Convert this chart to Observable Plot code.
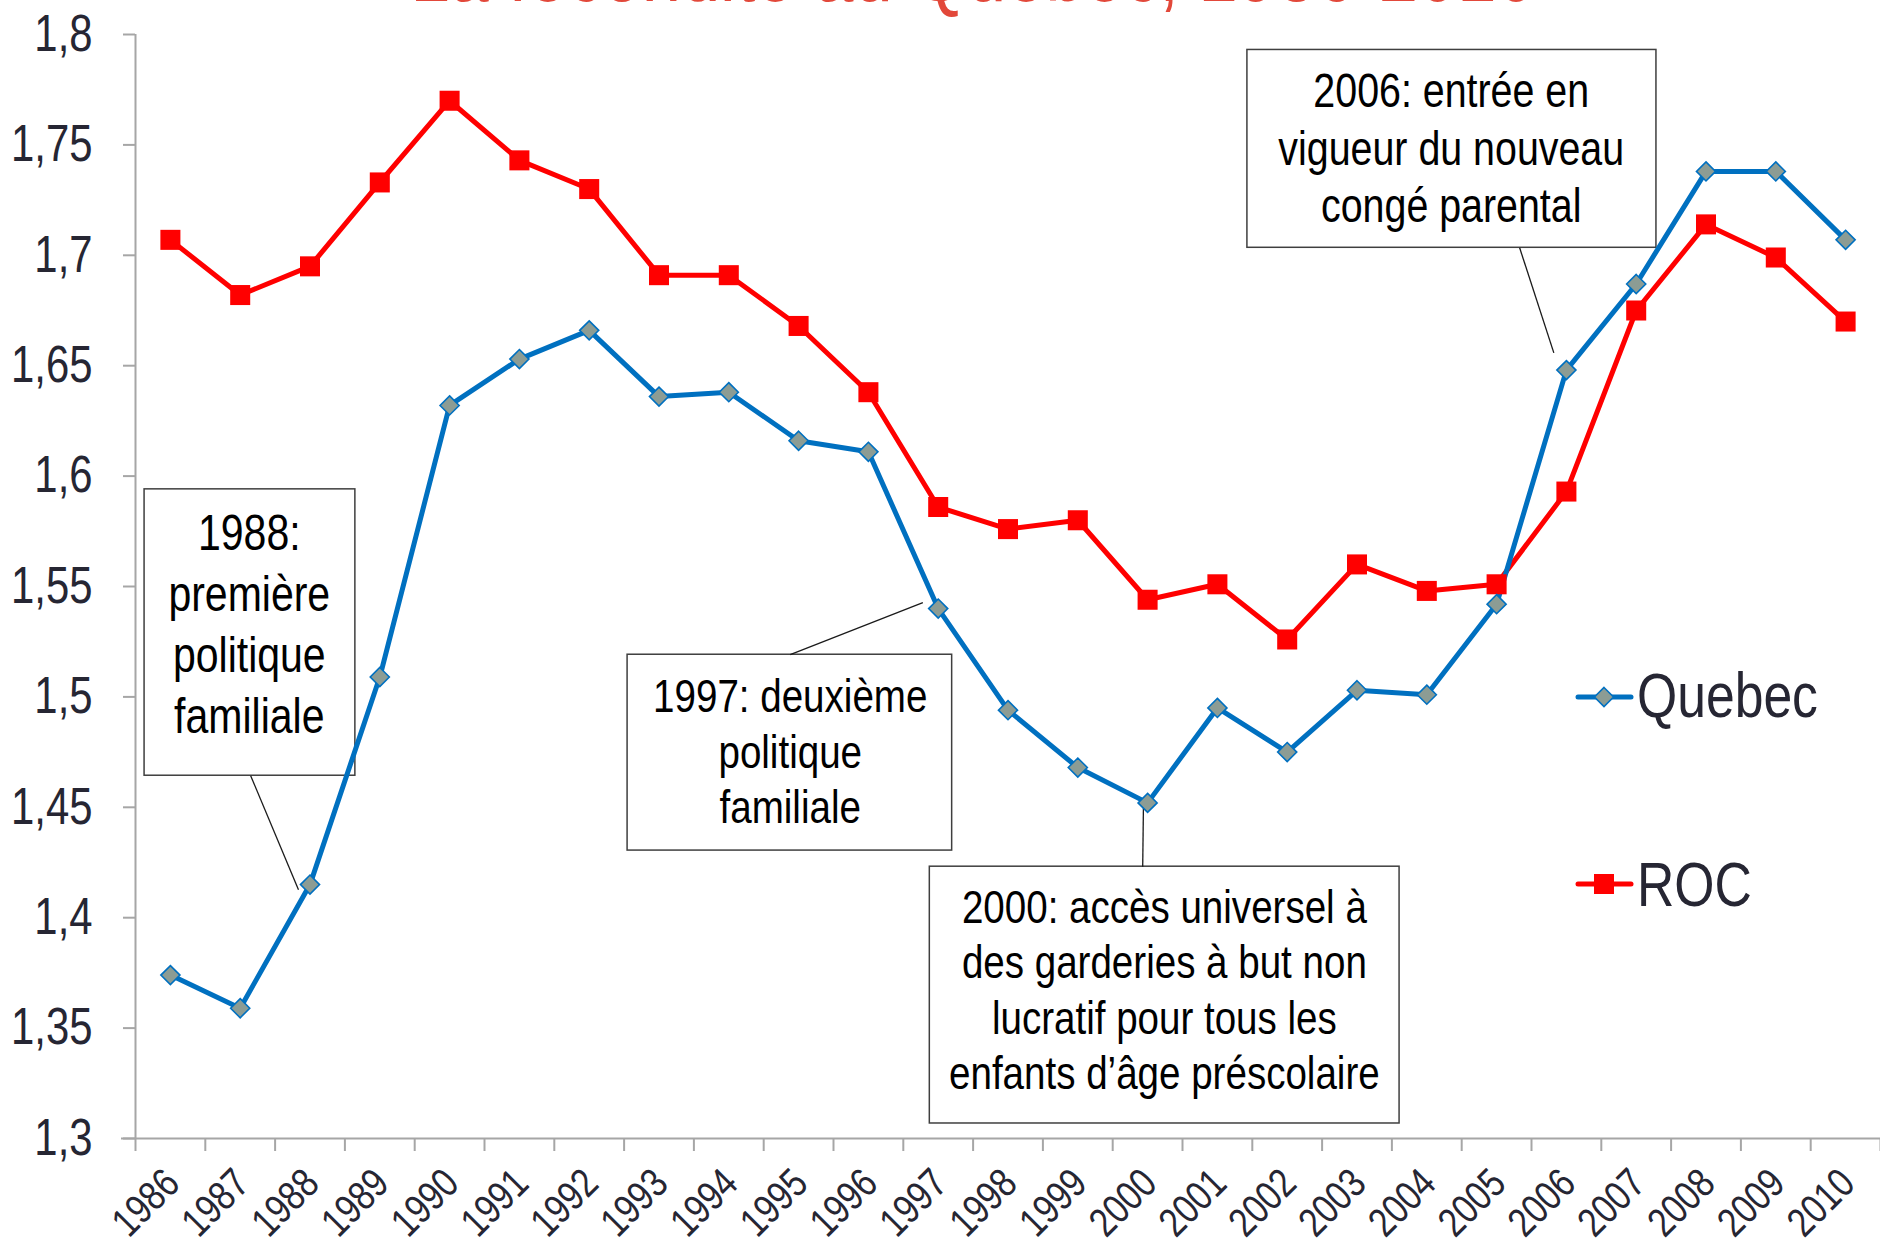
<!DOCTYPE html>
<html>
<head>
<meta charset="utf-8">
<script src="https://cdn.jsdelivr.net/npm/d3@7"></script>
<script src="https://cdn.jsdelivr.net/npm/@observablehq/plot@0.6"></script>
<style>
  html, body { margin: 0; padding: 0; background: #fff; overflow: hidden; }
  #wrap { position: relative; width: 1880px; height: 1248px; overflow: hidden; }
  #title { position: absolute; left: 0; width: 1946px; top: -72px; text-align: center;
           font-family: "Liberation Sans", Arial, sans-serif; font-size: 86px;
           line-height: 86px; color: #E2483A; white-space: nowrap;
           transform: scaleX(0.82); transform-origin: 973px 0; }
  #legend { position: absolute; left: 0; top: 0; pointer-events: none; }
</style>
</head>
<body>
<div id="wrap">
  <div id="chart"></div>
  <div id="title">La fécondité au Québec, 1986-2010</div>
</div>
<script>
// ---- data ----
const years = [1986,1987,1988,1989,1990,1991,1992,1993,1994,1995,1996,1997,1998,1999,2000,2001,2002,2003,2004,2005,2006,2007,2008,2009,2010];
const quebec = [1.374,1.359,1.415,1.509,1.632,1.653,1.666,1.636,1.638,1.616,1.611,1.540,1.494,1.468,1.452,1.495,1.475,1.503,1.501,1.542,1.648,1.687,1.738,1.738,1.707];
const roc = [1.707,1.682,1.695,1.733,1.770,1.743,1.730,1.691,1.691,1.668,1.638,1.586,1.576,1.580,1.544,1.551,1.526,1.560,1.548,1.551,1.593,1.675,1.714,1.699,1.670];
const yTicks = [1.3,1.35,1.4,1.45,1.5,1.55,1.6,1.65,1.7,1.75,1.8];
const seriesNames = ["Quebec", "ROC"];
const noteTexts = [
  "1988:\npremière\npolitique\nfamiliale",
  "1997: deuxième\npolitique\nfamiliale",
  "2000: accès universel à\ndes garderies à but non\nlucratif pour tous les\nenfants d’âge préscolaire",
  "2006: entrée en\nvigueur du nouveau\ncongé parental"
];

// ---- layout of annotation boxes (in data units) ----
const noteLayout = [
  {x1:1985.63, x2:1988.65, y1:1.4643, y2:1.5940, tx:1987.13, ty:1.5339, fs:50, lh:1.22, lx1:1987.15, ly1:1.4643, lx2:1987.835, ly2:1.4127},
  {x1:1992.55, x2:1997.20, y1:1.4304, y2:1.5191, tx:1994.88, ty:1.4759, fs:47, lh:1.18, lx1:1994.88, ly1:1.5191, lx2:1996.78, ly2:1.5427},
  {x1:1996.88, x2:2003.61, y1:1.3068, y2:1.4231, tx:2000.24, ty:1.3681, fs:47, lh:1.18, lx1:1999.93, ly1:1.4231, lx2:1999.94, ly2:1.4499},
  {x1:2001.43, x2:2007.29, y1:1.7034, y2:1.7930, tx:2004.35, ty:1.7493, fs:48, lh:1.2, lx1:2005.33, ly1:1.7034, lx2:2005.82, ly2:1.6558}
];
const notes = noteLayout.map((d, i) => ({...d, label: noteTexts[i]}));

const FONT = '"Liberation Sans", Arial, sans-serif';
const CONDENSE = 0.82;
const BLUE = "#0070C0", RED = "#FF0000", DIAMOND_FILL = "#8C9C94", AXIS = "#A6A6A6", INK = "#262633";

const qData = years.map((year, i) => ({year, value: quebec[i], series: seriesNames[0]}));
const rData = years.map((year, i) => ({year, value: roc[i], series: seriesNames[1]}));
const x0 = years[0] - 0.5, xEnd = years[years.length - 1] + 0.5;
const boundaries = d3.range(years.length + 1).map(i => x0 + i);
const fmt = d => String(d).replace(".", ",");

const chart = Plot.plot({
  width: 1880, height: 1248,
  marginLeft: 135, marginRight: 0, marginTop: 34, marginBottom: 110,
  x: {type: "linear", domain: [x0, xEnd], axis: null},
  y: {domain: [yTicks[0], yTicks[yTicks.length - 1]], axis: null},
  style: {fontFamily: FONT, background: "white", overflow: "visible"},
  marks: [
    Plot.ruleY([yTicks[0]], {stroke: AXIS, strokeWidth: 2, insetLeft: -14}),
    Plot.ruleX([x0], {stroke: AXIS, strokeWidth: 2}),
    Plot.axisY({ticks: yTicks, tickSize: 12, tickPadding: 31, tickFormat: fmt, fontSize: 51,
                stroke: AXIS, strokeWidth: 2, fill: INK}),
    Plot.axisX({ticks: boundaries, tickSize: 13, tickFormat: () => "", stroke: AXIS, strokeWidth: 2}),
    Plot.text(years, {x: d => d, y: () => yTicks[0], text: d => String(d), rotate: -45,
                      textAnchor: "end", lineAnchor: "middle", dy: 38, dx: 2, fontSize: 41, fill: INK}),
    // annotation boxes
    Plot.rect(notes, {x1: "x1", x2: "x2", y1: "y1", y2: "y2", fill: "white", stroke: "#3F3F3F", strokeWidth: 1.5}),
    Plot.link(notes, {x1: "lx1", y1: "ly1", x2: "lx2", y2: "ly2", stroke: "#1A1A1A", strokeWidth: 1.3}),
    ...notes.map(n => Plot.text([n], {x: "tx", y: "ty", text: "label", fontSize: n.fs, lineHeight: n.lh,
                                      lineAnchor: "middle", textAnchor: "middle", fill: "#000"})),
    // series
    Plot.line(rData, {x: "year", y: "value", stroke: RED, strokeWidth: 5}),
    Plot.line(qData, {x: "year", y: "value", stroke: BLUE, strokeWidth: 5}),
    Plot.dot(rData, {x: "year", y: "value", symbol: "square", r: 11.3, fill: RED, stroke: "none"}),
    Plot.dot(qData, {x: "year", y: "value", symbol: "diamond2", r: 8.6, fill: DIAMOND_FILL, stroke: BLUE, strokeWidth: 1.6})
  ]
});
document.getElementById("chart").appendChild(chart);

// ---- legend ----
const leg = d3.select("#wrap").append("svg").attr("id", "legend").attr("width", 1880).attr("height", 1248);
const legItems = [
  {name: seriesNames[0], color: BLUE, sym: d3.symbolDiamond2, size: Math.PI * 8.6 * 8.6, fill: DIAMOND_FILL, y: 697, ty: 717},
  {name: seriesNames[1], color: RED, sym: d3.symbolSquare, size: Math.PI * 11.3 * 11.3, fill: RED, y: 884, ty: 906}
];
const g = leg.selectAll("g").data(legItems).join("g");
g.append("line").attr("x1", 1578).attr("x2", 1631).attr("y1", d => d.y).attr("y2", d => d.y)
  .attr("stroke", d => d.color).attr("stroke-width", 5).attr("stroke-linecap", "round");
g.append("path").attr("d", d => d3.symbol(d.sym, d.size)()).attr("transform", d => `translate(1604,${d.y})`)
  .attr("fill", d => d.fill).attr("stroke", d => d.sym === d3.symbolSquare ? "none" : d.color).attr("stroke-width", 1.6);
g.append("text").attr("x", 1637).attr("y", d => d.ty).text(d => d.name)
  .attr("font-family", FONT).attr("font-size", 63).attr("fill", INK);

// ---- narrow the type (the original uses a condensed face) ----
function condense(root) {
  root.querySelectorAll("text").forEach(t => {
    const spans = t.querySelectorAll("tspan");
    const targets = spans.length ? Array.from(spans) : [t];
    targets.forEach(el => {
      if (!el.textContent.trim()) return;
      const len = el.getComputedTextLength();
      if (len > 0) {
        el.setAttribute("textLength", (len * CONDENSE).toFixed(2));
        el.setAttribute("lengthAdjust", "spacingAndGlyphs");
      }
    });
  });
}
condense(chart);
condense(document.getElementById("legend"));
</script>
</body>
</html>
